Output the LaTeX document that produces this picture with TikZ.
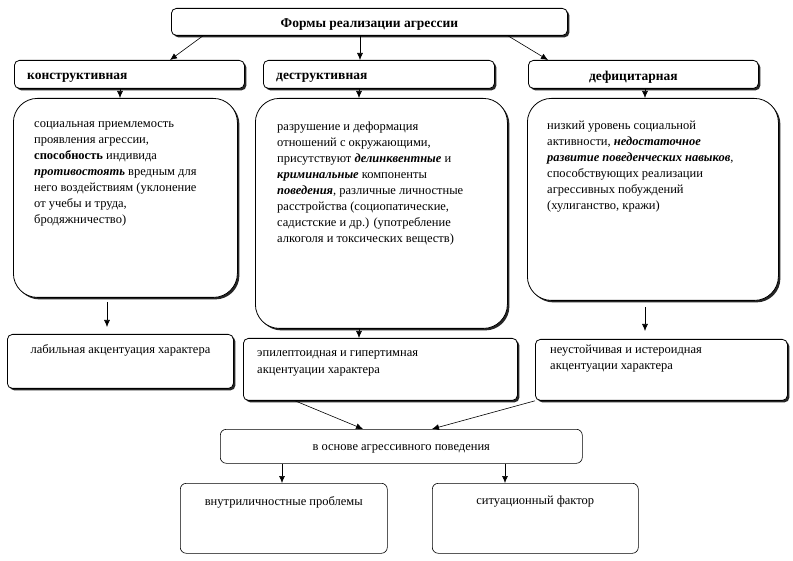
\documentclass[tikz,border=0pt]{standalone}
\usepackage{fontspec}
\setmainfont{Liberation Serif}
\usetikzlibrary{shadows,arrows.meta}

\begin{document}
\begin{tikzpicture}[
        x=1pt, y=-1pt,
        headNode/.style={rectangle, rounded corners=5pt, draw=black, fill=white,
        line width=0.8pt, inner sep=0pt, anchor=north west,
        drop shadow={shadow xshift=2pt, shadow yshift=-2pt, opacity=0.85, fill=black}},
        bigNode/.style={headNode, rounded corners=24pt},
        flatNode/.style={rectangle, rounded corners=6pt, draw=black, fill=white,
        line width=0.6pt, inner sep=0pt, anchor=north west},
        textNode/.style={inner sep=0pt, align=left, font=\fontsize{12.5}{16}\selectfont},
        boldNode/.style={inner sep=0pt, font=\fontsize{13.5}{15}\selectfont\bfseries},
        arrowLine/.style={-{Latex[length=7pt,width=6pt]}, line width=0.6pt},
    ]
    \useasboundingbox (0,0) rectangle (793,561);
    \node[headNode, minimum width=396pt, minimum height=27pt] (formsHead)  at (171,8)   {};
    \node[boldNode] (formsText) at ([yshift=-3pt]formsHead.center) {Формы реализации агрессии};
    \node[headNode, minimum width=230pt, minimum height=28pt] (constrHead) at (14,60)   {};
    \node[headNode, minimum width=231pt, minimum height=28pt] (destrHead)  at (263,60)  {};
    \node[headNode, minimum width=230pt, minimum height=28pt] (deficHead)  at (528,60)  {};
    \node[boldNode, anchor=west] (constrText) at ([xshift=13pt, yshift=-3pt]constrHead.west) {конструктивная};
    \node[boldNode, anchor=west] (destrText)  at ([xshift=13pt, yshift=-3pt]destrHead.west)  {деструктивная};
    \node[boldNode] (deficText) at ([xshift=-10pt, yshift=-3pt]deficHead.center) {дефицитарная};

    \node[bigNode, minimum width=224pt, minimum height=199pt] (constrBox) at (13,98)  {};
    \node[bigNode, minimum width=252pt, minimum height=230pt] (destrBox)  at (255,98) {};
    \node[bigNode, minimum width=251pt, minimum height=202pt] (deficBox)  at (527,98) {};
    \node[textNode, anchor=north west] (constrInfo) at (34,121) {социальная приемлемость\\
        проявления агрессии,\\
        \textbf{способность} индивида\\
        \textbf{\textit{противостоять}} вредным для\\
        него воздействиям (уклонение\\
        от учебы и труда,\\
        бродяжничество)};
    \node[textNode, anchor=north west] (destrInfo) at (277,122) {разрушение и деформация\\
        отношений с окружающими,\\
        присутствуют \textbf{\textit{делинквентные}} и\\
        \textbf{\textit{криминальные}} компоненты\\
        \textbf{\textit{поведения}}, различные личностные\\
        расстройства (социопатические,\\
        садистские и др.) (употребление\\
        алкоголя и токсических веществ)};
    \node[textNode, anchor=north west] (deficInfo) at (547,121) {низкий уровень социальной\\
        активности, \textbf{\textit{недостаточное}}\\
        \textbf{\textit{развитие поведенческих навыков}},\\
        способствующих реализации\\
        агрессивных побуждений\\
        (хулиганство, кражи)};

    \node[headNode, minimum width=226pt, minimum height=54pt] (labileBox)   at (7,334)   {};
    \node[headNode, minimum width=274pt, minimum height=62pt] (epilBox)     at (243,338) {};
    \node[headNode, minimum width=252pt, minimum height=61pt] (unstableBox) at (535,339) {};
    \node[textNode, anchor=north] (labileText) at ([yshift=-10pt]labileBox.north) {лабильная акцентуация характера};
    \node[textNode, anchor=north west, font=\fontsize{12.5}{17.5}\selectfont] (epilText) at (257,350) {эпилептоидная и гипертимная\\
        акцентуации характера};
    \node[textNode, anchor=north west] (unstableText) at (550,345) {неустойчивая и истероидная\\
        акцентуации характера};

    \node[flatNode, minimum width=362pt, minimum height=34pt] (basisBox) at (220,429) {};
    \node[textNode] (basisText) at ([yshift=-3pt]basisBox.center) {в основе агрессивного поведения};
    \node[flatNode, minimum width=207pt, minimum height=70pt] (innerBox) at (180,483) {};
    \node[flatNode, minimum width=206pt, minimum height=70pt] (situBox)  at (432,483) {};
    \node[textNode, anchor=north] (innerText) at ([yshift=-13pt]innerBox.north) {внутриличностные проблемы};
    \node[textNode, anchor=north] (situText)  at ([yshift=-13pt]situBox.north)  {ситуационный фактор};

    \draw[arrowLine] ([xshift=32pt]formsHead.south west)  -- ([xshift=156pt]constrHead.north west);
    \draw[arrowLine] ([xshift=189pt]formsHead.south west) -- ([xshift=97pt]destrHead.north west);
    \draw[arrowLine] ([xshift=337pt]formsHead.south west) -- ([xshift=20pt]deficHead.north west);
    \draw[arrowLine] ([xshift=106pt]constrHead.south west) -- ([xshift=107pt]constrBox.north west);
    \draw[arrowLine] ([xshift=96pt]destrHead.south west)   -- ([xshift=104pt]destrBox.north west);
    \draw[arrowLine] ([xshift=117pt]deficHead.south west)  -- ([xshift=118pt]deficBox.north west);
    \draw[arrowLine, shorten <=4pt, shorten >=7pt] ([xshift=94pt]constrBox.south west) -- ([xshift=100pt]labileBox.north west);
    \draw[arrowLine] ([xshift=104pt]destrBox.south west) -- ([xshift=116pt]epilBox.north west);
    \draw[arrowLine, shorten <=6pt, shorten >=8pt] ([xshift=118pt]deficBox.south west) -- ([xshift=110pt]unstableBox.north west);
    \draw[arrowLine] ([xshift=52pt]epilBox.south west) -- ([xshift=143pt]basisBox.north west);
    \draw[arrowLine] (unstableBox.south west) -- ([xshift=212pt]basisBox.north west);
    \draw[arrowLine] ([xshift=62pt]basisBox.south west)  -- ([xshift=102pt]innerBox.north west);
    \draw[arrowLine] ([xshift=285pt]basisBox.south west) -- ([xshift=73pt]situBox.north west);
\end{tikzpicture}
\end{document}
